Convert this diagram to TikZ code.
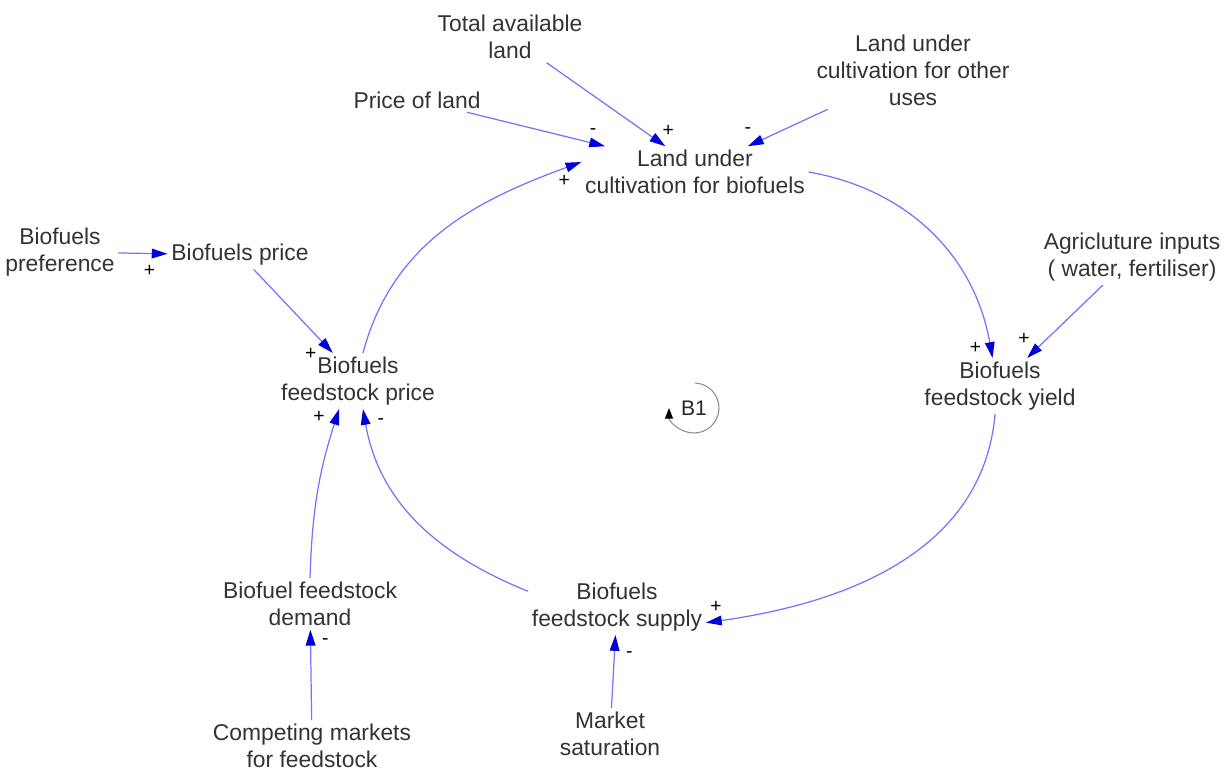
\documentclass[tikz,border=0pt]{standalone}
\usepackage{fontspec}
\setmainfont{Liberation Sans}
\usetikzlibrary{arrows.meta}

\begin{document}
\begin{tikzpicture}[
    x=0.02cm, y=0.02cm,
    var/.style={align=center, inner sep=2pt, text=black!80, font=\fontsize{13}{15.4}\selectfont},
    link/.style={draw=blue!55, line width=0.7pt, -{Triangle[length=9pt,width=5.5pt,color=blue!85!black]}},
    pol/.style={inner sep=0pt, text=black, font=\fontsize{11}{12}\selectfont}
]
    \useasboundingbox (0,0) rectangle (1229,771);

    % Land
    \node[var] (totalland) at (510,734) {Total available\\land};
    \node[var] (priceland) at (417,671) {Price of land};
    \node[var] (otheruses) at (913,701) {Land under\\cultivation for other\\uses};
    \node[var] (land) at (695,599) {Land under\\cultivation for biofuels};

    % Prices
    \node[var] (prefer) at (60,519) {Biofuels\\preference};
    \node[var] (bfprice) at (240,516) {Biofuels price};
    \node[var] (fsprice) at (358,390) {Biofuels\\feedstock price};

    % Yield
    \node[var] (agri) at (1132,514) {Agricluture inputs\\( water, fertiliser)};
    \node[var] (fsyield) at (1000,385) {Biofuels\\feedstock yield};

    % Demand and supply
    \node[var] (demand) at (310,167) {Biofuel feedstock\\demand};
    \node[var] (supply) at (617,164) {Biofuels\\feedstock supply};
    \node[var] (competing) at (312,25) {Competing markets\\for feedstock};
    \node[var] (saturation) at (610,37) {Market\\saturation};

    % Loop marker
    \node[font=\fontsize{12}{14}\selectfont, text=black!85, inner sep=1pt] (b1) at (694,363) {B1};
    \draw[black!45, line width=0.6pt, -{Triangle[length=6pt,width=4.5pt,color=black]}]
        ([shift={(88:0.5cm)}]b1.center) arc[start angle=88, end angle=-180, radius=0.5cm];

    % Links into land under cultivation
    \draw[link] (priceland) -- (land.164) node[pol, pos=1, xshift=-0.24cm, yshift=0.3cm] {-};
    \draw[link] (totalland) -- (land.139) node[pol, pos=1, xshift=0.06cm, yshift=0.3cm] {+};
    \draw[link] (otheruses) -- (land.26) node[pol, pos=1, xshift=0cm, yshift=0.32cm] {-};
    \draw[link] (fsprice.80) to[out=75, in=200] node[pol, pos=1, xshift=-0.34cm, yshift=-0.38cm] {+} (land.175);

    % Loop
    \draw[link] (land.east) to[out=-10, in=100] node[pol, pos=1, xshift=-0.34cm, yshift=0.2cm] {+} (fsyield.105);
    \draw[link] (fsyield.-100) to[out=-95, in=8] node[pol, pos=1, xshift=0.2cm, yshift=0.32cm] {+} (supply.-10);
    \draw[link] (supply.170) to[out=158, in=-80] node[pol, pos=1, xshift=0.36cm, yshift=-0.26cm] {-} (fsprice.-80);

    % Other links
    \draw[link] (agri) -- (fsyield.46) node[pol, pos=1, xshift=-0.06cm, yshift=0.38cm] {+};
    \draw[link] (prefer) -- (bfprice) node[pol, pos=1, xshift=-0.36cm, yshift=-0.34cm] {+};
    \draw[link] (bfprice) -- (fsprice.132) node[pol, pos=1, xshift=-0.44cm, yshift=-0.02cm] {+};
    \draw[link] (demand.north) to[bend left=8] node[pol, pos=1, xshift=-0.4cm, yshift=-0.16cm] {+} (fsprice.236);
    \draw[link] (competing) -- (demand) node[pol, pos=1, xshift=0.3cm, yshift=-0.24cm] {-};
    \draw[link] (saturation) -- (supply) node[pol, pos=1, xshift=0.28cm, yshift=-0.4cm] {-};
\end{tikzpicture}
\end{document}
